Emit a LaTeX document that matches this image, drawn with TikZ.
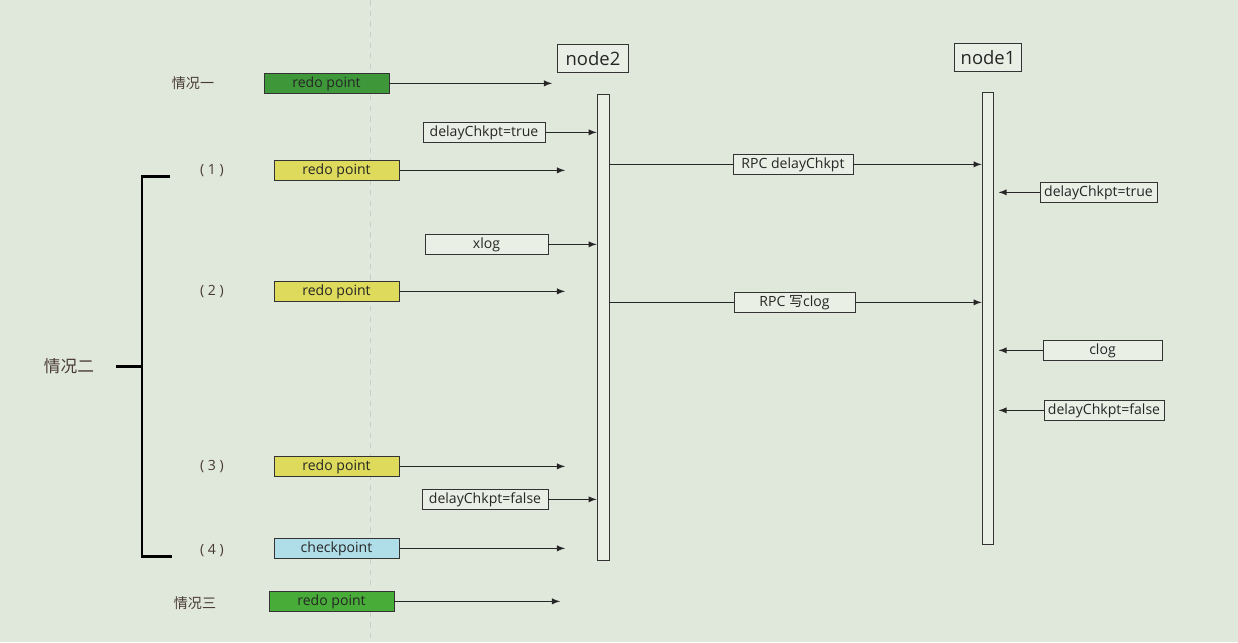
\documentclass[tikz,border=0pt]{standalone}
\usepackage{fontspec}
\setmainfont{Open Sans}
\newfontfamily\cjk{Noto Sans CJK SC}
\definecolor{screen}{RGB}{224,231,219}
\definecolor{paper}{RGB}{234,239,230}
\definecolor{redogreen}{RGB}{62,152,58}
\definecolor{redolime}{RGB}{72,172,56}
\definecolor{redoyellow}{RGB}{222,218,92}
\definecolor{ckptcyan}{RGB}{176,222,232}
\definecolor{casetext}{RGB}{72,58,52}

\begin{document}
\begin{tikzpicture}[x=0.02cm,y=-0.02cm,>=latex,font=\fontsize{8}{10}\selectfont]
    \tikzstyle{box}=[draw=black!80,fill=paper,minimum height=0.4cm,inner sep=1pt,text=black!85]
    \tikzstyle{redo}=[box,minimum width=2.5cm]
    \tikzstyle{head}=[box,font=\fontsize{10.5}{12}\selectfont,minimum height=0.58cm]
    \tikzstyle{life}=[draw=black!80,fill=paper,inner sep=0pt]
    \tikzstyle{msg}=[->,draw=black!85,line width=0.6pt]
    \tikzstyle{case}=[text=casetext]

    % screen background
    \fill[screen] (0,0) rectangle (1238,642);
    \draw[black!20,dashed] (370,0) -- (370,642);

    % the two nodes and their lifelines
    \node[head,minimum width=1.42cm] (N2) at (593,58) {node2};
    \node[head,minimum width=1.34cm] (N1) at (988,57) {node1};
    \node[life,minimum width=0.24cm,minimum height=9.32cm] (L2) at (603,327) {};
    \node[life,minimum width=0.22cm,minimum height=9.04cm] (L1) at (987.5,318) {};

    % case one
    \node[case] (Q1) at (193,83) {\cjk 情况一};
    \node[redo,fill=redogreen] (R0) at (326.5,83) {redo point};
    \coordinate (E0) at (552,83);
    \draw[msg] (R0) -- (E0);

    % case two, steps (1) to (3)
    \foreach \n/\y in {1/170,2/291,3/466}
    {
    \node[case] (C\n) at (212,\y) {( \n\ )};
    \node[redo,fill=redoyellow] (R\n) at (336.5,\y) {redo point};
    \coordinate (E\n) at (565,\y);
    \draw[msg] (R\n) -- (E\n);
    }

    % case two, step (4)
    \node[case] (C4) at (212,550) {( 4 )};
    \node[redo,fill=ckptcyan] (R4) at (336.5,548) {checkpoint};
    \coordinate (E4) at (565,548);
    \draw[msg] (R4) -- (E4);

    % case three
    \node[case] (Q3) at (195,603) {\cjk 情况三};
    \node[redo,fill=redolime] (R5) at (331.5,601) {redo point};
    \coordinate (E5) at (560,601);
    \draw[msg] (R5) -- (E5);

    % bracket for case two
    \node[case,font=\fontsize{9.5}{11}\selectfont] (Q2) at (69,366) {\cjk 情况二};
    \coordinate (B0) at (116,366);
    \coordinate (B1) at (142,366);
    \coordinate (B2) at (170,176);
    \coordinate (B3) at (172,556);
    \draw[line width=1.4pt] (B0) -- (B1);
    \draw[line width=1.4pt] (B2) -- (B2 -| B1) -- (B3 -| B1) -- (B3);

    % flags and logs written on node2
    \node[box,minimum width=2.44cm] (D1) at (484,132) {delayChkpt=true};
    \node[box,minimum width=2.46cm] (X) at (486.5,244) {xlog};
    \node[box,minimum width=2.52cm] (D2) at (485,499) {delayChkpt=false};
    \foreach \src in {D1,X,D2}
    \draw[msg] (\src.east) -- (\src.east -| L2.west);

    % calls from node2 to node1
    \node[box,minimum width=2.4cm] (P1) at (793,164) {RPC delayChkpt};
    \node[box,minimum width=2.42cm] (P2) at (794.5,302) {RPC {\cjk 写}clog};
    \foreach \src in {P1,P2}
    {
    \draw[black!85,line width=0.6pt] (L2.east |- \src) -- (\src.west);
    \draw[msg] (\src.east) -- (\src.east -| L1.west);
    }

    % flags and logs written on node1
    \node[box,minimum width=2.34cm] (T1) at (1098.5,192) {delayChkpt=true};
    \node[box,minimum width=2.38cm] (T2) at (1102.5,350) {clog};
    \node[box,minimum width=2.4cm] (T3) at (1104,410) {delayChkpt=false};
    \foreach \src in {T1,T2,T3}
    \draw[msg,shorten >=3pt] (\src.west) -- (\src.west -| L1.east);
\end{tikzpicture}
\end{document}
